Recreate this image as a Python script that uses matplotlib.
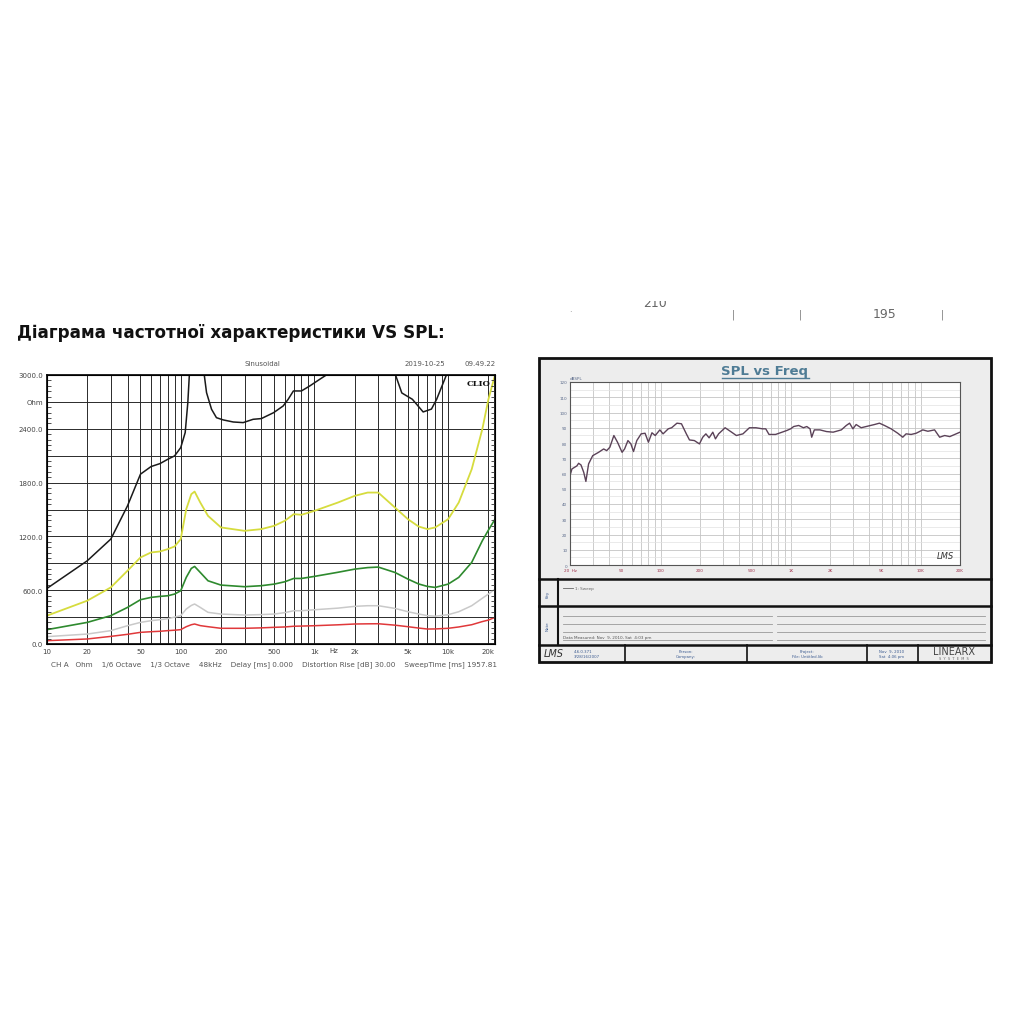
import numpy as np
import matplotlib.pyplot as plt
from matplotlib.patches import Rectangle

# --- left chart: impedance curves (Ohm vs Hz) ---
f_black = [10, 20, 30, 40, 50, 60, 70, 80, 90, 100, 108, 113, 116, 130, 150, 156, 170, 185, 208,
           247, 293, 348, 401, 495, 584, 636, 696, 799, 921, 1095, 1227, 2000, 4040, 4500, 5400,
           6500, 7500, 8200, 9700, 12000]
z_black = [620, 928, 1170, 1541, 1894, 1979, 2012, 2060, 2098, 2190, 2358, 2692, 3000, 3600, 3000,
           2803, 2618, 2524, 2499, 2476, 2469, 2506, 2514, 2580, 2655, 2729, 2822, 2822, 2877, 2952,
           3000, 3400, 3000, 2800, 2729, 2588, 2620, 2729, 3000, 3400]

f_curves = [10, 20, 30, 40, 50, 60, 70, 80, 90, 100, 110, 120, 127, 140, 160, 200, 300, 400, 500,
            600, 700, 800, 1000, 1500, 2000, 2500, 3000, 4000, 5000, 6000, 7000, 8000, 10000,
            12000, 15000, 18000, 20000, 22400]
z_yellow = [316, 483, 631, 817, 965, 1021, 1032, 1058, 1088, 1170, 1504, 1671, 1700, 1578, 1429,
            1300, 1262, 1281, 1318, 1374, 1448, 1441, 1485, 1578, 1652, 1689, 1689, 1522, 1392,
            1311, 1281, 1300, 1392, 1578, 1949, 2395, 2729, 3000]
z_green = [160, 241, 316, 408, 494, 520, 531, 538, 557, 594, 743, 843, 865, 798, 705, 657, 639,
           650, 668, 694, 731, 731, 754, 800, 835, 852, 858, 798, 724, 670, 642, 631, 668, 743,
           910, 1151, 1270, 1392]
z_gray = [82, 111, 149, 204, 241, 260, 271, 282, 300, 316, 390, 430, 446, 408, 353, 334, 323,
          328, 334, 350, 371, 371, 382, 400, 420, 427, 427, 397, 360, 335, 316, 310, 327, 360,
          427, 510, 557, 613]
z_red = [37, 56, 85, 108, 130, 137, 142, 149, 154, 160, 193, 215, 223, 205, 193, 175, 175, 180,
         186, 190, 198, 200, 204, 214, 223, 225, 226, 210, 193, 178, 167, 168, 175, 190, 215,
         250, 267, 297]

x_ticks_l = [10, 20, 50, 100, 200, 500, 1000, 2000, 5000, 10000, 20000]
x_labels_l = ['10', '20', '50', '100', '200', '500', '1k', '2k', '5k', '10k', '20k']
y_labels_l = ['0.0', '', '600.0', '', '1200.0', '', '1800.0', '', '2400.0', 'Ohm', '3000.0']

# --- right chart: SPL vs Freq ---
f_spl = [20, 20.7, 22.6, 23.3, 24.3, 25.5, 26.5, 27.8, 29.9, 33.2, 36.3, 38.3, 40.5, 43.5, 46.4,
         50.3, 52.6, 55.8, 58.8, 61.6, 65.3, 70.5, 75.6, 80.2, 85.4, 90.5, 98.2, 104, 114, 121,
         133, 144, 157, 166, 181, 198, 210, 222, 235, 251, 263, 278, 312, 350, 381, 428, 480,
         539, 605, 641, 679, 762, 856, 930, 996, 1051, 1148, 1250, 1326, 1405, 1446, 1515, 1673,
         1880, 2115, 2444, 2669, 2829, 3000, 3179, 3473, 3794, 4392, 4800, 5246, 5902, 6640,
         7257, 7697, 8414, 9200, 10350, 11320, 12750, 13950, 15250, 16690, 20000]
spl = [58.6, 63, 65, 66.7, 65.6, 60.8, 54.8, 66.3, 71.7, 73.9, 76.1, 75, 77.2, 84.9, 80.5, 73.9,
       76.1, 81.6, 79.4, 74.4, 81.6, 86, 86.4, 80.5, 86.7, 84.9, 88.6, 86, 89.3, 90, 93, 92.6,
       86, 82, 81.6, 79.4, 83.8, 86, 83.4, 87.1, 82.7, 86, 90, 87.1, 84.9, 86, 90, 90, 89.3,
       89.3, 85.6, 85.6, 87.1, 88.2, 89.3, 90.8, 91.5, 90, 90.8, 89.3, 83.8, 88.6, 88.6, 87.5,
       87.1, 88.6, 91.5, 93, 89.3, 92.1, 90, 90.8, 92.1, 93, 91.5, 89.3, 86.4, 83.8, 86, 85.6,
       86.4, 88.6, 87.7, 88.6, 83.8, 84.9, 84.2, 87.1]

x_ticks_r = [20, 50, 100, 200, 500, 1000, 2000, 5000, 10000, 20000]
x_labels_r = ['20  Hz', '50', '100', '200', '500', '1K', '2K', '5K', '10K', '20K']

W, H = 1019, 1020
fig = plt.figure(figsize=(W / 100, H / 100), dpi=100)


def box(x0, y0, x1, y1):
    return [x0 / W, 1 - y1 / H, (x1 - x0) / W, (y1 - y0) / H]


page = fig.add_axes([0, 0, 1, 1])
page.set_xlim(0, W)
page.set_ylim(H, 0)
page.axis('off')

page.text(17, 333, 'Діаграма частотної характеристики VS SPL:', fontsize=12.1,
          fontweight='bold', ha='left', va='center', color='#111111')

# header of the clio chart
for x, s in [(262, 'Sinusoidal'), (425, '2019-10-25'), (480, '09.49.22')]:
    page.text(x, 364, s, fontsize=5, color='#555555', ha='center', va='center')
page.text(51, 665, 'CH A   Ohm    1/6 Octave    1/3 Octave    48kHz    Delay [ms] 0.000    '
          'Distortion Rise [dB] 30.00    SweepTime [ms] 1957.81', fontsize=5.2,
          color='#555555', ha='left', va='center')

# cut-off row above the right panel
strip = fig.add_axes(box(540, 302, 1000, 322))
strip.set_xlim(540, 1000)
strip.set_ylim(322, 302)
strip.axis('off')
strip.text(655, 304, '210', fontsize=9, color='#666666', ha='center', va='center', clip_on=True)
strip.text(885, 315, '195', fontsize=9, color='#666666', ha='center', va='center')
for x in [733, 800, 942]:
    strip.text(x, 315, '|', fontsize=7, color='#777777', ha='center', va='center')
strip.text(570, 310, '.', fontsize=6, color='#888888', ha='center', va='center')

# right panel frame (LMS report)
page.add_patch(Rectangle((539, 359), 452, 304, facecolor='#ededed', edgecolor='#111111', lw=2))
for y in [580, 607, 646]:
    page.plot([539, 991], [y, y], color='#111111', lw=1.8)
page.plot([558, 558], [580, 646], color='#111111', lw=1.5)
for x in [625, 747, 867, 918]:
    page.plot([x, x], [646, 663], color='#111111', lw=1.2)
page.text(765, 372, 'SPL vs Freq', fontsize=9.5, fontweight='bold', color='#4f7c95',
          ha='center', va='center')
page.plot([722, 809], [379, 379], color='#4f7c95', lw=1)
page.text(548, 594, 'Key', fontsize=3, rotation=90, color='#3a5a90', ha='center', va='center')
page.text(548, 626, 'Note', fontsize=3, rotation=90, color='#3a5a90', ha='center', va='center')
page.plot([563, 573], [589, 589], color='#666666', lw=0.6)
page.text(575, 589, '1: Sweep', fontsize=3, color='#666666', ha='left', va='center')
for y in [617, 625, 633, 641]:
    page.plot([563, 772], [y, y], color='#999999', lw=0.6)
    page.plot([777, 985], [y, y], color='#999999', lw=0.6)
page.text(563, 638.5, 'Data Measured: Nov  9, 2010, Sat  4:03 pm', fontsize=3, color='#555555',
          ha='left', va='center')
page.text(544, 654.5, 'LMS', fontsize=7, style='italic', color='#333333', ha='left', va='center')
page.text(574, 654.5, '4.6.0.371\n3/28/16/2007', fontsize=2.8, color='#3a5a90', ha='left',
          va='center', linespacing=1.2)
page.text(686, 654.5, 'Person:\nCompany:', fontsize=2.8, color='#3a5a90', ha='center',
          va='center', linespacing=1.2)
page.text(807, 654.5, 'Project:\nFile: Untitled.lib', fontsize=2.8, color='#3a5a90',
          ha='center', va='center', linespacing=1.2)
page.text(892, 654.5, 'Nov  9, 2010\nSat  4:06 pm', fontsize=2.8, color='#3a5a90',
          ha='center', va='center', linespacing=1.2)
page.text(954, 652, 'LINEARX', fontsize=7, color='#444444', ha='center', va='center')
page.text(954, 659.5, 'S  Y  S  T  E  M  S', fontsize=2.5, color='#666666', ha='center',
          va='center')

# left chart
ax1 = fig.add_axes(box(47, 376, 495, 645))
ax1.set_xscale('log')
ax1.plot(f_black, z_black, color='#1a1a1a', lw=1.1)
ax1.plot(f_curves, z_yellow, color='#d6dc3e', lw=1.3)
ax1.plot(f_curves, z_green, color='#2e8a2e', lw=1.2)
ax1.plot(f_curves, z_gray, color='#c9c9c9', lw=1.1)
ax1.plot(f_curves, z_red, color='#e0383a', lw=1.1)
ax1.set_xlim(10, 22400)
ax1.set_ylim(0, 3000)
ax1.set_xticks(x_ticks_l)
ax1.set_xticklabels(x_labels_l)
ax1.set_xticks([m * d for d in [10, 100, 1000, 10000] for m in range(2, 10)
                if m * d not in x_ticks_l and m * d < 22400], minor=True)
ax1.set_yticks(np.arange(0, 3001, 300))
ax1.set_yticklabels(y_labels_l)
ax1.grid(True, which='both', color='#2a2a2a', lw=0.7)
ax1.tick_params(which='both', length=0, labelsize=5, labelcolor='#444444', pad=3)
for s in ax1.spines.values():
    s.set_linewidth(1.3)
    s.set_color('#111111')
# small inner ticks on both vertical spines
ax1b = ax1.twinx()
ax1b.set_ylim(0, 3000)
ax1b.set_yticks(np.arange(0, 3001, 60))
ax1b.set_yticklabels([])
ax1b.tick_params(axis='y', direction='in', length=3, width=0.6, color='#333333',
                 left=True, right=True)
ax1.text(1400, -0.012, 'Hz', transform=ax1.get_xaxis_transform(), fontsize=5,
         color='#444444', ha='center', va='top')
ax1.text(0.99, 0.985, 'CLIO', transform=ax1.transAxes, fontsize=6, fontweight='bold',
         family='DejaVu Serif', ha='right', va='top', color='#111111')

# right chart
ax2 = fig.add_axes(box(570, 383, 960, 566))
ax2.set_facecolor('white')
ax2.set_xscale('log')
ax2.plot(f_spl, spl, color='#5b4258', lw=1)
ax2.set_xlim(20, 20000)
ax2.set_ylim(0, 120)
ax2.set_xticks(x_ticks_r)
ax2.set_xticklabels(x_labels_r)
ax2.set_xticks([m * d for d in [10, 100, 1000, 10000] for m in range(2, 10)
                if m * d not in x_ticks_r and 20 < m * d < 20000], minor=True)
ax2.set_yticks(np.arange(0, 121, 10))
ax2.set_yticks(np.arange(5, 120, 10), minor=True)
ax2.grid(True, which='major', color='#c4c4c4', lw=0.6)
ax2.grid(True, which='minor', axis='x', color='#c4c4c4', lw=0.6)
ax2.grid(True, which='minor', axis='y', color='#e2e2e2', lw=0.5)
ax2.tick_params(axis='x', which='both', length=0, labelsize=3, labelcolor='#a0304a', pad=2)
ax2.tick_params(axis='y', which='both', length=0, labelsize=3, labelcolor='#5a6a8a', pad=2)
for s in ax2.spines.values():
    s.set_linewidth(0.8)
    s.set_color('#555555')
ax2.text(0, 1.01, 'dBSPL', transform=ax2.transAxes, fontsize=3, color='#5a6a8a',
         ha='left', va='bottom')
ax2.text(0.985, 0.03, 'LMS', transform=ax2.transAxes, fontsize=6, style='italic',
         color='#333333', ha='right', va='bottom')

fig.savefig('out.png', dpi=100)
